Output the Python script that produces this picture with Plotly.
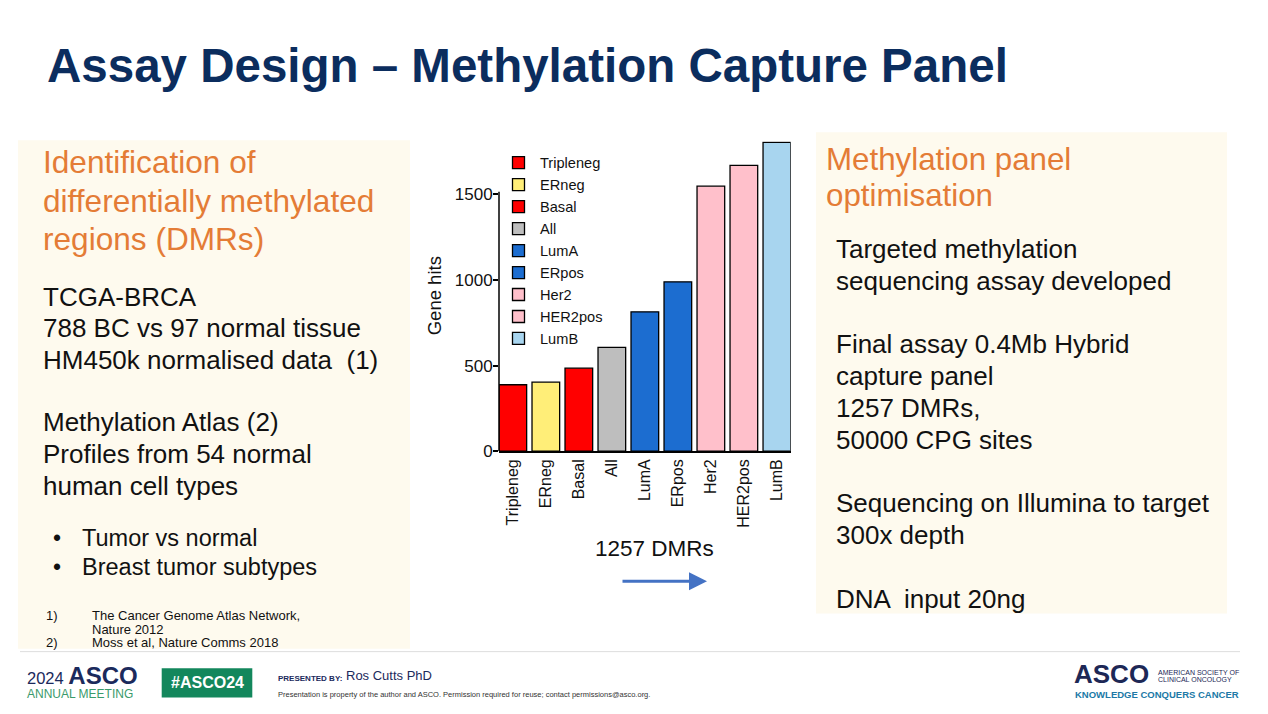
import plotly.graph_objects as go

# ---------------- data ----------------
categories = ["Tripleneg", "ERneg", "Basal", "All", "LumA", "ERpos", "Her2", "HER2pos", "LumB"]
gene_hits = [388, 403, 485, 606, 814, 989, 1548, 1669, 1804]
bar_colors = ["#FF0000", "#FFEE78", "#FF0000", "#BEBEBE", "#1C6DD0",
              "#1C6DD0", "#FFC0CB", "#FFC0CB", "#A8D5EF"]
y_ticks = [0, 500, 1000, 1500]

W, H = 1268, 714
KY = 1.0152  # vertical correction for the photographed page
FONT = "Arial, 'Liberation Sans', sans-serif"
NAVY = "#0B2D5E"
ORANGE = "#E47C36"
CREAM = "#FEFAEE"


def px(x):
    return x / W


def py(y):
    return 1 - (y * KY) / H


fig = go.Figure()
for cat, val, col in zip(categories, gene_hits, bar_colors):
    fig.add_trace(go.Bar(
        x=[cat], y=[val], name=cat,
        marker=dict(color=col, line=dict(color="black", width=1.3)),
        hoverinfo="x+y",
    ))

fig.update_layout(
    width=W, height=H,
    margin=dict(l=0, r=0, t=0, b=0),
    paper_bgcolor="white", plot_bgcolor="rgba(0,0,0,0)",
    barmode="overlay", bargap=0.162,
    font=dict(family=FONT, color="#111111"),
    showlegend=True,
    legend=dict(x=px(497), y=py(146.5), xanchor="left", yanchor="top",
                bgcolor="rgba(0,0,0,0)", font=dict(size=14.6, color="#111111"),
                itemwidth=33, itemclick=False, itemdoubleclick=False),
)
fig.update_xaxes(
    domain=[px(499), px(790.7)], range=[-0.419, 8.419],
    categoryorder="array", categoryarray=categories,
    tickangle=-90, showline=True, linecolor="black", linewidth=1.5,
    ticks="", showgrid=False, zeroline=False,
    tickfont=dict(size=16, color="#111111"),
)
fig.update_yaxes(
    domain=[py(450.7), py(141.2)], range=[0, 1810],
    tickvals=y_ticks, ticks="outside", ticklen=5, tickwidth=1.5, tickcolor="black",
    showline=False, showgrid=False, zeroline=False, ticklabelstandoff=-3,
    tickfont=dict(size=17, color="#111111"),
)

shapes = [
    # panels
    dict(type="rect", xref="paper", yref="paper", x0=px(18), x1=px(410), y0=py(648), y1=py(140),
         fillcolor=CREAM, line=dict(width=0), layer="below"),
    dict(type="rect", xref="paper", yref="paper", x0=px(816), x1=px(1227), y0=py(613), y1=py(132),
         fillcolor=CREAM, line=dict(width=0), layer="below"),
    # y axis line (Prism style, stops at top tick)
    dict(type="line", xref="x domain", yref="y", x0=0, x1=0, y0=0, y1=1515,
         line=dict(color="black", width=1.5)),
    # footer separator
    dict(type="line", xref="paper", yref="paper", x0=px(20), x1=px(1240), y0=py(651), y1=py(651),
         line=dict(color="#DDDDDD", width=1)),
    # #ASCO24 box
    dict(type="rect", xref="paper", yref="paper", x0=px(161.7), x1=px(252.3), y0=py(696.7), y1=py(667.7),
         fillcolor="#13875C", line=dict(width=0)),
]
fig.update_layout(shapes=shapes)

annotations = []


def txt(text, x, y, size, color="#111111", bold=False, anchor="left", family=FONT, angle=0):
    t = "<b>%s</b>" % text if bold else text
    annotations.append(dict(
        text=t, x=px(x), y=py(y), xref="paper", yref="paper",
        xanchor=anchor, yanchor="middle", showarrow=False, textangle=angle, align="left",
        font=dict(size=size, color=color, family=family),
    ))


# title
txt("Assay Design – Methylation Capture Panel", 45, 65, 47.5, NAVY, bold=True)

# left panel
for s, y in [("Identification of", 162), ("differentially methylated", 200.5), ("regions (DMRs)", 239)]:
    txt(s, 41, y, 31.6, ORANGE)
for s, y in [("TCGA-BRCA", 297), ("788 BC vs 97 normal tissue", 328), ("HM450k normalised data  (1)", 360),
             ("Methylation Atlas (2)", 422), ("Profiles from 54 normal", 454), ("human cell types", 486)]:
    txt(s, 41, y, 26)
for s, y in [("Tumor vs normal", 537), ("Breast tumor subtypes", 566.5)]:
    txt("•", 51, y, 23)
    txt(s, 80, y, 23.5)
txt("1)", 44, 615, 13)
txt("The Cancer Genome Atlas Network,", 90, 615, 13)
txt("Nature 2012", 90, 628.5, 13)
txt("2)", 44, 642, 13)
txt("Moss et al, Nature Comms 2018", 90, 642, 13)

# right panel
for s, y in [("Methylation panel", 159), ("optimisation", 195.5)]:
    txt(s, 824, y, 31.3, ORANGE)
for s, y in [("Targeted methylation", 249), ("sequencing assay developed", 280.5),
             ("Final assay 0.4Mb Hybrid", 344), ("capture panel", 375.5), ("1257 DMRs,", 407.5),
             ("50000 CPG sites", 439.5), ("Sequencing on Illumina to target", 503), ("300x depth", 534.5),
             ("DNA  input 20ng", 598)]:
    txt(s, 834, y, 26)

# chart extras
txt("Gene hits", 434, 296, 18.5, anchor="center", angle=-90)
txt("1257 DMRs", 654, 548, 22.5, anchor="center")
annotations.append(dict(
    text="", x=px(707), y=py(580.7), xref="paper", yref="paper",
    ax=-86, ay=0, showarrow=True, arrowhead=2, arrowsize=1.2, arrowwidth=3,
    arrowcolor="#4472C4", standoff=0,
))

# footer
txt("<span style='font-size:16.5px'>2024 </span><b><span style='font-size:24px'>ASCO</span></b>"
    "<br><span style='font-size:12px;color:#3A9A6B'>ANNUAL MEETING</span>",
    25, 680.5, 11, "#1B2A5C")
txt("#ASCO24", 207, 682, 16, "white", bold=True, anchor="center")
txt("PRESENTED BY:", 276, 677.5, 8, "#1B2A5C", bold=True)
txt("Ros Cutts PhD", 344, 675, 13, "#1B2A5C")
txt("Presentation is property of the author and ASCO. Permission required for reuse; contact permissions@asco.org.",
    276, 694, 7.5, "#333333")
txt("ASCO", 1072, 673, 26, "#1D2856", bold=True)
txt("AMERICAN SOCIETY OF", 1156, 671.5, 7, "#1D2856")
txt("CLINICAL ONCOLOGY", 1156, 679, 7, "#1D2856")
txt("KNOWLEDGE CONQUERS CANCER", 1073, 694, 9.5, "#2079A6", bold=True)

fig.update_layout(annotations=annotations)

fig.write_html("out.html", config={"displayModeBar": False},
               post_script="document.body.style.margin='0';document.body.style.overflow='hidden';")
